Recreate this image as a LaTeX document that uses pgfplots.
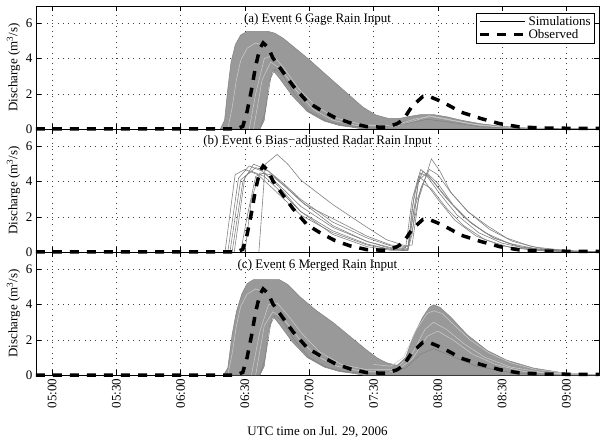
\documentclass[border=0pt]{standalone}
\usepackage{fontspec}
\setmainfont{Liberation Serif}
\usepackage{pgfplots}
\pgfplotsset{compat=1.18}
\definecolor{simgray}{RGB}{130,130,130}
\definecolor{bandgray}{RGB}{153,153,153}
\definecolor{lightsim}{RGB}{205,205,205}
\newcommand{\fs}{\fontsize{13bp}{15bp}\selectfont}
\pgfplotsset{
 panel/.style={
  width=563bp, height=123bp, scale only axis,
  xmin=-7.5, xmax=255.2, ymin=0, ymax=7,
  xtick={0,30,...,240}, ytick={0,2,4,6},
  grid=major,
  major grid style={black!75, line width=0.6bp, dash pattern=on 0.8bp off 4.6bp},
  tick align=inside, tick pos=both,
  major tick length=5bp,
  every tick/.style={black, line width=0.6bp},
  axis line style={black, line width=0.8bp},
  /pgf/number format/assume math mode=true,
  tick label style={font=\fs},
  label style={font=\fs},
  ylabel={Discharge (m\textsuperscript{3}/s)},
  ylabel style={at={(axis description cs:-0.040,0.5)}, anchor=center},
  clip=false,
 },
 obs/.style={black, line width=3.5bp, dash pattern=on 9bp off 8bp, line cap=butt},
 sim/.style={simgray, line width=0.6bp},
 lsim/.style={lightsim, line width=0.5bp},
}
\begin{document}
\begin{tikzpicture}
%% ---------------- panel (a)
\begin{axis}[panel, at={(0,246bp)}, xticklabels={},
  legend style={at={(rel axis cs:0.993,0.943)}, anchor=north east, draw=black, line width=0.8bp,
    font=\fs, inner xsep=2bp, inner ysep=1bp, row sep=-1.5bp, cells={anchor=west}},
  legend image code/.code={\draw[#1] (0bp,0bp) -- (45bp,0bp);}]
\addlegendimage{black, line width=0.6bp}
\addlegendentry{Simulations}
\addlegendimage{obs}
\addlegendentry{Observed}
\addplot[fill=bandgray, draw=simgray, line width=0.5bp, forget plot] coordinates {
(78.5,0) (80.5,0.5) (82,2.3) (83.5,3.8) (85.5,4.8) (88,5.35) (91,5.55) (101,5.55) (104,5.45)
(108,5.15) (112,4.75) (119.5,4.0) (125,3.4) (131,2.75) (138,2.0) (145,1.25) (151,0.8) (157,0.6)
(162,0.6) (167,0.72) (172,0.82) (178,0.82) (184,0.7) (191,0.5) (200,0.3) (210,0.15) (222,0.06)
(240,0.02) (255.2,0.01) (255.2,0) (145,0) (140,0.1) (134,0.2) (127,0.45) (119,1.0) (112,1.9)
(106,2.9) (103,3.35) (101,2.5) (99,0.5) (97,0)} -- cycle;
\addplot[lsim, forget plot] coordinates {(92,0) (95,2.0) (99,4.0) (103,4.2) (108,3.5) (115,2.3) (123,1.3) (133,0.6) (145,0.25) (160,0.15) (170,0.5) (176,0.75) (183,0.6) (195,0.3) (210,0.1) (230,0.02)};
\addplot[lsim, forget plot] coordinates {(94,0) (98,2.8) (102,3.8) (107,3.4) (114,2.2) (122,1.1) (131,0.5) (142,0.2) (160,0.2) (170,0.6) (177,0.7) (186,0.5) (200,0.2) (220,0.04)};
\addplot[lsim, forget plot] coordinates {(82,0) (84,1.2) (86,2.8) (88,3.9) (91,4.6) (95,4.9) (100,4.7)};
\addplot[sim, forget plot] coordinates {(97,0) (99.5,1.0) (102,2.9) (104,3.4) (108,3.0) (113,2.0) (120,1.0) (128,0.45) (136,0.2) (150,0.05) (165,0.3) (175,0.55) (185,0.4) (200,0.12) (220,0.02)};
\addplot[obs, forget plot] coordinates {
(-7.5,0) (86,0) (89,0.15) (91,1.0) (93,2.2) (95,3.6) (97,4.6) (98.5,4.9) (101,4.6) (103,4.05)
(108,3.2) (112.5,2.45) (119,1.55) (125,1.1) (132,0.65) (139,0.35) (147,0.13) (156,0.1) (161,0.3)
(164,0.55) (168,1.3) (173,1.85) (176,1.85) (180,1.65) (185,1.35) (191,0.95) (200,0.6) (209,0.3)
(218,0.12) (230,0.05) (255.2,0.03)};
\node[font=\fs] at (rel axis cs:0.5,0.89) {(a) Event 6 Gage Rain Input};
\end{axis}
%% ---------------- panel (b)
\begin{axis}[panel, at={(0,123bp)}, xticklabels={}]
\addplot[sim] coordinates {(80.7,0) (85.4,4.4) (90,4.7) (96,4.4) (104,3.5) (116,2.1) (131,1.1) (147,0.4) (158,0.15) (166,0.1) (168,2.5) (171,4.3) (174,4.0) (180,3.0) (188,1.8) (198,0.9) (210,0.35) (225,0.1) (245,0.02) (255,0)};
\addplot[sim] coordinates {(82,0) (87,4.2) (92,4.9) (98,4.6) (106,3.8) (116,2.6) (131,1.4) (147,0.6) (158,0.25) (166,0.18) (168,1.8) (171,4.0) (173,4.6) (178,4.0) (186,2.8) (195,1.7) (206,0.8) (218,0.3) (232,0.08) (255,0.01)};
\addplot[sim] coordinates {(84,0) (89,4.0) (94,5.0) (100,4.7) (108,3.9) (116,3.0) (131,1.7) (147,0.8) (158,0.35) (165,0.25) (168,3.0) (172,4.7) (176,4.3) (183,3.2) (192,2.0) (202,1.1) (213,0.5) (227,0.15) (245,0.03) (255,0.01)};
\addplot[sim] coordinates {(96.5,0) (99.5,5.0) (105,5.55) (110,5.0) (116,4.1) (131,2.7) (147,1.4) (156,0.7) (165,0.35) (168,0.4) (171,3.0) (177,5.3) (181,4.6) (186,3.4) (194,2.3) (203,1.5) (212,0.8) (224,0.3) (240,0.08) (255,0.02)};
\addplot[sim] coordinates {(88,0) (91,2.0) (95,4.3) (99,4.5) (106,3.7) (116,2.3) (131,1.0) (147,0.3) (158,0.1) (166,0.08) (169,2.5) (173,3.9) (177,3.6) (184,2.5) (192,1.5) (202,0.7) (214,0.25) (230,0.05) (255,0)};
\addplot[sim] coordinates {(85,0) (90,4.3) (95,4.8) (101,4.6) (109,3.7) (116,2.9) (131,1.5) (147,0.6) (158,0.2) (166,0.12) (168,1.0) (171,4.1) (175,4.5) (180,3.9) (187,2.7) (196,1.6) (206,0.8) (218,0.3) (235,0.06) (255,0.01)};
\addplot[sim] coordinates {(83,0) (88,4.1) (93,4.6) (99,4.3) (107,3.4) (116,2.3) (131,1.2) (147,0.45) (158,0.15) (166,0.1) (169,3.3) (172,4.5) (175,4.3) (181,3.3) (189,2.1) (199,1.1) (210,0.5) (223,0.15) (240,0.03) (255,0)};
\addplot[sim] coordinates {(90,0) (93,3.0) (97,4.5) (102,4.4) (110,3.6) (118,2.7) (131,1.9) (147,0.9) (158,0.4) (166,0.3) (168,1.2) (172,3.6) (176,4.7) (180,4.4) (186,3.4) (194,2.3) (204,1.3) (215,0.6) (228,0.2) (245,0.04) (255,0.01)};
\addplot[obs] coordinates {
(-7.5,0) (86,0) (89,0.15) (91,1.0) (93,2.2) (95,3.6) (97,4.6) (98.5,4.9) (101,4.6) (103,4.05)
(108,3.2) (112.5,2.45) (119,1.55) (125,1.1) (132,0.65) (139,0.35) (147,0.13) (156,0.1) (161,0.3)
(164,0.55) (168,1.3) (173,1.85) (176,1.85) (180,1.65) (185,1.35) (191,0.95) (200,0.6) (209,0.3)
(218,0.12) (230,0.05) (255.2,0.03)};
\node[font=\fs] at (rel axis cs:0.5,0.90) {(b) Event 6 Bias−adjusted Radar Rain Input};
\end{axis}
%% ---------------- panel (c)
\begin{axis}[panel, at={(0,0)},
  xticklabels={05:00,05:30,06:00,06:30,07:00,07:30,08:00,08:30,09:00},
  xticklabel style={rotate=90, anchor=east},
  xlabel={UTC time on Jul. 29, 2006},
  xlabel style={at={(axis description cs:0.5,0)}, yshift=-57bp, anchor=center}]
\addplot[fill=bandgray, draw=simgray, line width=0.5bp] coordinates {
(80,0) (82,0.4) (84,2.3) (86,3.6) (88.5,4.6) (91,5.2) (94,5.43) (106,5.43) (110,5.15) (115.7,4.45)
(123,3.7) (131,3.0) (139,2.2) (147,1.4) (152,0.95) (156,0.7) (161,0.55) (165,1.0) (168.5,2.2)
(173,3.3) (176,3.85) (178,4.0) (181,3.85) (186,3.3) (193.6,2.3) (203,1.4) (212,0.85) (224.5,0.4)
(237,0.15) (248,0.05) (255.2,0.02) (255.2,0) (145,0) (140,0.1) (134,0.2) (127,0.45) (119,1.0)
(112,1.9) (106,2.9) (103,3.35) (101,2.5) (99,0.5) (97,0)} -- cycle;
\addplot[lsim] coordinates {(93,0) (97,2.5) (101,4.0) (105,4.1) (110,3.4) (117,2.3) (125,1.3) (135,0.6) (147,0.3) (160,0.3) (168,1.2) (174,2.6) (178,3.0) (184,2.6) (192,1.8) (202,1.0) (214,0.45) (230,0.12) (250,0.02)};
\addplot[lsim] coordinates {(95,0) (99,2.8) (103,3.6) (108,3.2) (115,2.1) (123,1.1) (133,0.5) (145,0.2) (160,0.2) (168,0.9) (175,2.2) (180,2.5) (187,2.0) (196,1.2) (207,0.6) (220,0.2) (240,0.04)};
\addplot[lsim] coordinates {(150,0.6) (158,0.5) (164,1.0) (170,2.6) (175,3.5) (178,3.65) (182,3.5) (188,2.8) (195,2.0) (204,1.25) (214,0.7) (226,0.3) (240,0.1) (255,0.02)};
\addplot[lsim] coordinates {(82,0) (84,1.2) (86,2.8) (88,3.9) (91,4.6) (95,4.9) (100,4.7)};
\addplot[sim] coordinates {(97,0) (99.5,1.0) (102,2.9) (104,3.4) (108,3.0) (113,2.0) (120,1.0) (128,0.45) (136,0.2) (150,0.05) (165,0.4) (172,1.2) (178,1.5) (186,1.1) (198,0.5) (215,0.12) (235,0.02)};
\addplot[obs] coordinates {
(-7.5,0) (86,0) (89,0.15) (91,1.0) (93,2.2) (95,3.6) (97,4.6) (98.5,4.9) (101,4.6) (103,4.05)
(108,3.2) (112.5,2.45) (119,1.55) (125,1.1) (132,0.65) (139,0.35) (147,0.13) (156,0.1) (161,0.3)
(164,0.55) (168,1.3) (173,1.85) (176,1.85) (180,1.65) (185,1.35) (191,0.95) (200,0.6) (209,0.3)
(218,0.12) (230,0.05) (255.2,0.03)};
\node[font=\fs] at (rel axis cs:0.5,0.89) {(c) Event 6 Merged Rain Input};
\end{axis}
\pgfresetboundingbox
\path[use as bounding box] (-36bp,-66bp) rectangle (565bp,375bp);
\end{tikzpicture}
\end{document}
